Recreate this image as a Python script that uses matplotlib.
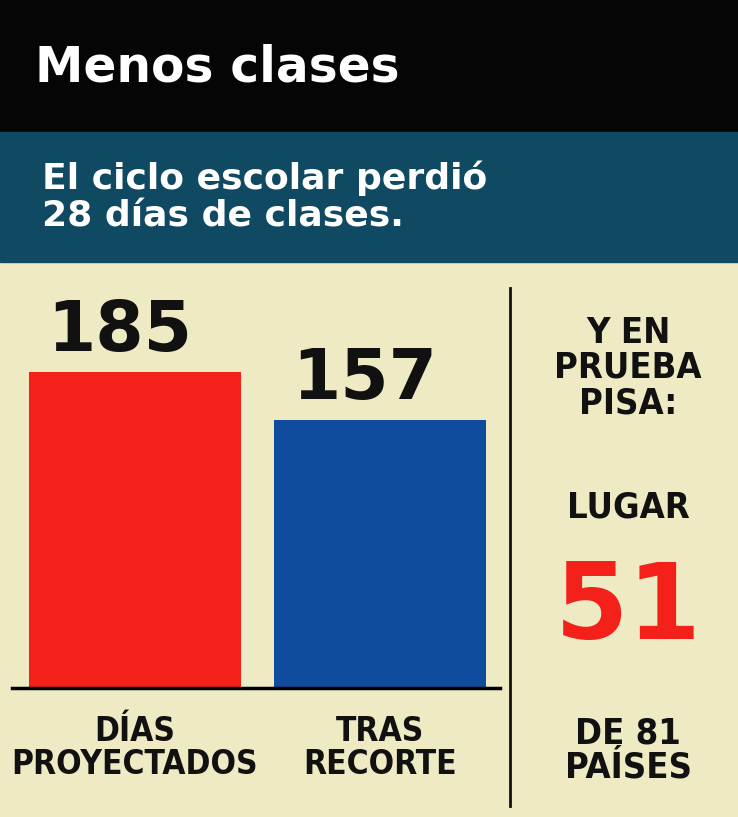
import matplotlib.pyplot as plt
from matplotlib.patches import Rectangle

categorias = ["DÍAS\nPROYECTADOS", "TRAS\nRECORTE"]
dias = [185, 157]
colores = ["#f4211b", "#0f4c9e"]
titulo = "Menos clases"
subtitulo = "El ciclo escolar perdió\n28 días de clases."
lugar_pisa = 51
total_paises = 81

W, H = 738, 817
fig = plt.figure(figsize=(W / 100, H / 100), dpi=100)
fig.patch.set_facecolor("#eeeac3")

def fx(px):
    return px / W

def fy(py):
    return 1 - py / H

# franjas de encabezado
fig.patches.append(Rectangle((0, fy(132)), 1, 132 / H, transform=fig.transFigure,
                             color="#050505", zorder=0))
fig.patches.append(Rectangle((0, fy(262)), 1, 130 / H, transform=fig.transFigure,
                             color="#0f4a62", zorder=0))
fig.text(fx(35), fy(68), titulo, color="white", fontsize=35, fontweight="bold",
         family="DejaVu Sans", va="center")
fig.text(fx(42), fy(197), subtitulo, color="white", fontsize=26, fontweight="bold",
         family="DejaVu Sans", va="center", linespacing=1.15)

# barras
ax = fig.add_axes([fx(12), fy(688), fx(488), (688 - 372) / H])
ax.set_facecolor("none")
pos = [123, 368]
ax.bar(pos, dias, width=212, color=colores)
ax.set_xlim(0, 488)
ax.set_ylim(0, 185)
for s in ["top", "right", "left"]:
    ax.spines[s].set_visible(False)
ax.spines["bottom"].set_linewidth(2.5)
ax.set_yticks([])
ax.set_xticks([])
cond = dict(family="DejaVu Sans", fontstretch="condensed", fontweight="bold",
            color="#111111")
for x, v, c in zip(pos, dias, categorias):
    ax.text(x - 15, v + 4, str(v), ha="center", va="bottom", fontsize=50,
            fontweight="bold", family="DejaVu Sans", color="#111111")
    fig.text(fx(12 + x), fy(748), c, ha="center", va="center", fontsize=24,
             linespacing=1.0, **cond)

# divisor y bloque PISA
fig.add_artist(plt.Line2D([fx(510)] * 2, [fy(288), fy(806)], color="#111111", lw=2))
cx = fx(628)
fig.text(cx, fy(368), "Y EN\nPRUEBA\nPISA:", ha="center", va="center", fontsize=26,
         linespacing=1.05, **cond)
fig.text(cx, fy(508), "LUGAR", ha="center", va="center", fontsize=26, **cond)
fig.text(cx, fy(610), str(lugar_pisa), ha="center", va="center", fontsize=76,
         fontweight="bold", family="DejaVu Sans", color="#f4211b")
fig.text(cx, fy(750), f"DE {total_paises}\nPAÍSES", ha="center", va="center", fontsize=26,
         linespacing=1.0, **cond)

fig.savefig("out.png", dpi=100, facecolor=fig.get_facecolor())
